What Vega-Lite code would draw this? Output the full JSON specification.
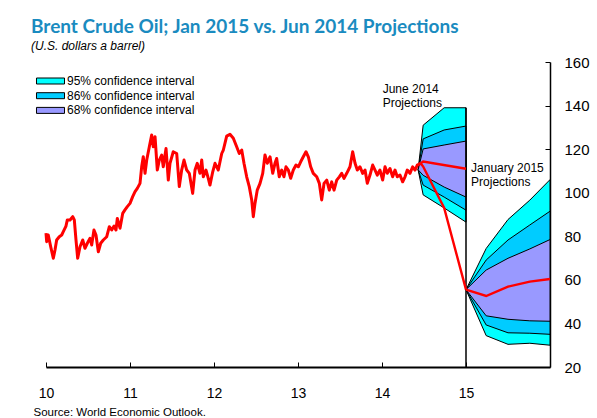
{
  "$schema": "https://vega.github.io/schema/vega-lite/v6.json",
  "width": 504,
  "height": 305,
  "autosize": {"type": "none"},
  "padding": {"left": 46, "top": 62, "right": 47, "bottom": 51},
  "background": "white",
  "config": {"view": {"stroke": null}, "font": "Liberation Sans"},
  "title": {
    "text": "Brent Crude Oil; Jan 2015 vs. Jun 2014 Projections",
    "subtitle": "(U.S. dollars a barrel)",
    "anchor": "start",
    "frame": "group",
    "dx": -15,
    "offset": 3,
    "font": "Lato",
    "fontSize": 19,
    "fontWeight": "bold",
    "color": "#1a8bc0",
    "subtitleFont": "Liberation Sans",
    "subtitleFontSize": 12,
    "subtitleFontStyle": "italic",
    "subtitleColor": "black",
    "subtitlePadding": 4
  },
  "datasets": {
    "hist": [
      {"t": 2010.0, "v": 81.4}, {"t": 2010.008, "v": 77.5}, {"t": 2010.027, "v": 80.6}, {"t": 2010.056, "v": 75.2},
      {"t": 2010.087, "v": 69.9}, {"t": 2010.107, "v": 73.7}, {"t": 2010.127, "v": 78.3}, {"t": 2010.158, "v": 79.8},
      {"t": 2010.187, "v": 80.6}, {"t": 2010.206, "v": 82.1}, {"t": 2010.238, "v": 84.7}, {"t": 2010.254, "v": 87.5},
      {"t": 2010.286, "v": 87.5}, {"t": 2010.318, "v": 89.0}, {"t": 2010.337, "v": 87.5}, {"t": 2010.357, "v": 78.3},
      {"t": 2010.377, "v": 69.9}, {"t": 2010.405, "v": 75.2}, {"t": 2010.437, "v": 78.3}, {"t": 2010.464, "v": 74.5},
      {"t": 2010.492, "v": 76.8}, {"t": 2010.524, "v": 79.1}, {"t": 2010.544, "v": 76.0}, {"t": 2010.571, "v": 82.9},
      {"t": 2010.595, "v": 80.6}, {"t": 2010.623, "v": 72.9}, {"t": 2010.651, "v": 76.8}, {"t": 2010.682, "v": 78.3},
      {"t": 2010.723, "v": 79.8}, {"t": 2010.754, "v": 84.4}, {"t": 2010.782, "v": 82.9}, {"t": 2010.81, "v": 84.7},
      {"t": 2010.833, "v": 82.9}, {"t": 2010.849, "v": 88.2}, {"t": 2010.881, "v": 83.7}, {"t": 2010.913, "v": 90.5},
      {"t": 2010.94, "v": 92.1}, {"t": 2010.968, "v": 93.6}, {"t": 2011.0, "v": 95.1}, {"t": 2011.032, "v": 98.2},
      {"t": 2011.06, "v": 100.5}, {"t": 2011.087, "v": 102.0}, {"t": 2011.119, "v": 104.3}, {"t": 2011.139, "v": 111.9},
      {"t": 2011.158, "v": 116.5}, {"t": 2011.179, "v": 108.9}, {"t": 2011.199, "v": 115.0}, {"t": 2011.23, "v": 121.1},
      {"t": 2011.258, "v": 126.5}, {"t": 2011.277, "v": 121.1}, {"t": 2011.298, "v": 125.7}, {"t": 2011.325, "v": 110.4},
      {"t": 2011.349, "v": 115.0}, {"t": 2011.377, "v": 117.3}, {"t": 2011.396, "v": 111.9}, {"t": 2011.429, "v": 120.3},
      {"t": 2011.456, "v": 105.8}, {"t": 2011.476, "v": 113.5}, {"t": 2011.515, "v": 118.8}, {"t": 2011.556, "v": 118.0},
      {"t": 2011.587, "v": 102.8}, {"t": 2011.615, "v": 110.4}, {"t": 2011.643, "v": 115.0}, {"t": 2011.675, "v": 110.4},
      {"t": 2011.706, "v": 108.9}, {"t": 2011.746, "v": 99.7}, {"t": 2011.774, "v": 110.4}, {"t": 2011.801, "v": 113.5},
      {"t": 2011.833, "v": 108.9}, {"t": 2011.854, "v": 115.0}, {"t": 2011.873, "v": 107.3}, {"t": 2011.905, "v": 110.4},
      {"t": 2011.932, "v": 106.6}, {"t": 2011.952, "v": 103.5}, {"t": 2011.985, "v": 109.6}, {"t": 2012.012, "v": 113.5},
      {"t": 2012.051, "v": 110.4}, {"t": 2012.092, "v": 118.0}, {"t": 2012.111, "v": 119.6}, {"t": 2012.151, "v": 126.0},
      {"t": 2012.19, "v": 126.8}, {"t": 2012.23, "v": 125.0}, {"t": 2012.27, "v": 121.1}, {"t": 2012.301, "v": 118.0},
      {"t": 2012.33, "v": 119.6}, {"t": 2012.357, "v": 113.5}, {"t": 2012.389, "v": 107.3}, {"t": 2012.42, "v": 102.8},
      {"t": 2012.449, "v": 96.7}, {"t": 2012.468, "v": 89.0}, {"t": 2012.488, "v": 95.1}, {"t": 2012.515, "v": 101.2},
      {"t": 2012.548, "v": 104.3}, {"t": 2012.58, "v": 108.9}, {"t": 2012.607, "v": 117.3}, {"t": 2012.635, "v": 113.5},
      {"t": 2012.667, "v": 116.5}, {"t": 2012.699, "v": 108.9}, {"t": 2012.726, "v": 113.5}, {"t": 2012.746, "v": 115.7},
      {"t": 2012.777, "v": 107.3}, {"t": 2012.806, "v": 110.4}, {"t": 2012.833, "v": 107.3}, {"t": 2012.857, "v": 111.9},
      {"t": 2012.885, "v": 110.4}, {"t": 2012.913, "v": 106.6}, {"t": 2012.944, "v": 110.4}, {"t": 2012.976, "v": 112.7},
      {"t": 2013.004, "v": 111.9}, {"t": 2013.032, "v": 114.2}, {"t": 2013.063, "v": 116.5}, {"t": 2013.095, "v": 118.8},
      {"t": 2013.123, "v": 116.5}, {"t": 2013.151, "v": 111.9}, {"t": 2013.182, "v": 108.9}, {"t": 2013.223, "v": 107.3},
      {"t": 2013.254, "v": 104.3}, {"t": 2013.282, "v": 96.7}, {"t": 2013.31, "v": 104.3}, {"t": 2013.342, "v": 105.8},
      {"t": 2013.373, "v": 101.2}, {"t": 2013.401, "v": 105.0}, {"t": 2013.429, "v": 101.2}, {"t": 2013.461, "v": 105.8},
      {"t": 2013.492, "v": 107.3}, {"t": 2013.52, "v": 108.9}, {"t": 2013.548, "v": 106.6}, {"t": 2013.58, "v": 108.9},
      {"t": 2013.619, "v": 111.9}, {"t": 2013.651, "v": 118.8}, {"t": 2013.679, "v": 113.5}, {"t": 2013.706, "v": 110.4},
      {"t": 2013.738, "v": 111.9}, {"t": 2013.77, "v": 108.9}, {"t": 2013.798, "v": 110.4}, {"t": 2013.825, "v": 104.3},
      {"t": 2013.857, "v": 108.1}, {"t": 2013.889, "v": 112.7}, {"t": 2013.917, "v": 110.4}, {"t": 2013.944, "v": 108.1},
      {"t": 2013.976, "v": 110.4}, {"t": 2014.008, "v": 105.8}, {"t": 2014.036, "v": 111.9}, {"t": 2014.063, "v": 108.9},
      {"t": 2014.095, "v": 111.1}, {"t": 2014.127, "v": 107.3}, {"t": 2014.155, "v": 110.4}, {"t": 2014.182, "v": 107.3},
      {"t": 2014.214, "v": 108.1}, {"t": 2014.246, "v": 105.0}, {"t": 2014.274, "v": 107.3}, {"t": 2014.301, "v": 110.4},
      {"t": 2014.333, "v": 108.9}, {"t": 2014.365, "v": 111.9}, {"t": 2014.393, "v": 110.4}, {"t": 2014.42, "v": 112.7},
      {"t": 2014.46, "v": 113.5}
    ],
    "proj": [
      {"s": "jun", "t": 2014.46, "v": 113.5}, {"s": "jun", "t": 2014.49, "v": 114.3}, {"s": "jun", "t": 2015.0, "v": 111.0},
      {"s": "act", "t": 2014.46, "v": 113.5}, {"s": "act", "t": 2014.49, "v": 112.0}, {"s": "act", "t": 2014.74, "v": 93.0}, {"s": "act", "t": 2015.0, "v": 55.5},
      {"s": "jan", "t": 2015.0, "v": 55.5}, {"s": "jan", "t": 2015.24, "v": 52.6}, {"s": "jan", "t": 2015.5, "v": 56.9}, {"s": "jan", "t": 2015.76, "v": 59.2}, {"s": "jan", "t": 2016.0, "v": 60.4}
    ],
    "bands": [
      {"f": "jun", "b": "95", "t": 2014.43, "v": 110.5, "v2": 110.5},
      {"f": "jun", "b": "95", "t": 2014.49, "v": 99.0, "v2": 131.0},
      {"f": "jun", "b": "95", "t": 2014.74, "v": 93.0, "v2": 139.0},
      {"f": "jun", "b": "95", "t": 2015.0, "v": 86.5, "v2": 139.0},
      {"f": "jun", "b": "86", "t": 2014.43, "v": 110.5, "v2": 110.5},
      {"f": "jun", "b": "86", "t": 2014.49, "v": 103.5, "v2": 124.7},
      {"f": "jun", "b": "86", "t": 2014.74, "v": 98.0, "v2": 128.8},
      {"f": "jun", "b": "86", "t": 2015.0, "v": 92.0, "v2": 130.6},
      {"f": "jun", "b": "68", "t": 2014.43, "v": 110.5, "v2": 110.5},
      {"f": "jun", "b": "68", "t": 2014.49, "v": 108.0, "v2": 120.1},
      {"f": "jun", "b": "68", "t": 2014.74, "v": 102.6, "v2": 121.9},
      {"f": "jun", "b": "68", "t": 2015.0, "v": 98.0, "v2": 123.7},
      {"f": "jan", "b": "95", "t": 2015.0, "v": 55.5, "v2": 55.5},
      {"f": "jan", "b": "95", "t": 2015.24, "v": 34.4, "v2": 74.4},
      {"f": "jan", "b": "95", "t": 2015.5, "v": 30.4, "v2": 87.7},
      {"f": "jan", "b": "95", "t": 2015.76, "v": 30.9, "v2": 96.6},
      {"f": "jan", "b": "95", "t": 2016.0, "v": 30.0, "v2": 106.0},
      {"f": "jan", "b": "86", "t": 2015.0, "v": 55.5, "v2": 55.5},
      {"f": "jan", "b": "86", "t": 2015.24, "v": 39.3, "v2": 69.1},
      {"f": "jan", "b": "86", "t": 2015.5, "v": 35.7, "v2": 78.3},
      {"f": "jan", "b": "86", "t": 2015.76, "v": 35.5, "v2": 85.2},
      {"f": "jan", "b": "86", "t": 2016.0, "v": 35.0, "v2": 91.5},
      {"f": "jan", "b": "68", "t": 2015.0, "v": 55.5, "v2": 55.5},
      {"f": "jan", "b": "68", "t": 2015.24, "v": 43.5, "v2": 64.5},
      {"f": "jan", "b": "68", "t": 2015.5, "v": 41.9, "v2": 69.9},
      {"f": "jan", "b": "68", "t": 2015.76, "v": 41.2, "v2": 74.2},
      {"f": "jan", "b": "68", "t": 2016.0, "v": 41.0, "v2": 78.5}
    ],
    "vline": [{"t": 2015.0, "v": 20, "v2": 139}],
    "labels": [
      {"t": 2014.008, "v": 145.9, "label": "June 2014\nProjections"},
      {"t": 2015.06, "v": 109.7, "label": "January 2015\nProjections"}
    ]
  },
  "encoding": {
    "x": {
      "field": "t", "type": "quantitative",
      "scale": {"domain": [2010, 2016], "nice": false, "zero": false},
      "title": "Source: World Economic Outlook.",
      "axis": {
        "values": [2010, 2011, 2012, 2013, 2014, 2015],
        "labelExpr": "'' + (datum.value - 2000)",
        "grid": false, "tickSize": -5, "tickColor": "black", "tickWidth": 1,
        "domainColor": "black", "domainWidth": 2,
        "labelFont": "Liberation Sans", "labelFontSize": 14, "labelColor": "black", "labelPadding": 24,
        "labelFlush": false, "labelOverlap": false,
        "titleFont": "Liberation Sans", "titleFontSize": 11.5, "titleFontWeight": "normal", "titleColor": "black",
        "titleAnchor": "start", "titleAlign": "left", "titleBaseline": "alphabetic", "titleX": -13, "titleY": 48
      }
    },
    "y": {
      "field": "v", "type": "quantitative",
      "scale": {"domain": [20, 160], "nice": false, "zero": false},
      "title": null,
      "axis": {
        "orient": "right", "values": [20, 40, 60, 80, 100, 120, 140, 160],
        "grid": false, "tickSize": -5, "tickColor": "black", "tickWidth": 1,
        "domainColor": "black", "domainWidth": 1.5,
        "labelFont": "Liberation Sans", "labelFontSize": 15, "labelColor": "black", "labelPadding": 19,
        "labelFlush": false, "labelOverlap": false
      }
    }
  },
  "layer": [
    {
      "data": {"name": "bands"},
      "transform": [{"filter": "datum.b == '95'"}],
      "mark": {"type": "area", "stroke": "black", "strokeWidth": 1, "opacity": 1, "fillOpacity": 1},
      "encoding": {
        "y2": {"field": "v2"},
        "detail": {"field": "f"},
        "color": {
          "field": "b", "type": "nominal",
          "scale": {"domain": ["95", "86", "68"], "range": ["#00ffff", "#00ccff", "#9999ff"]},
          "legend": {
            "orient": "none", "legendX": -1.5, "legendY": 13, "title": null, "padding": 0,
            "symbolType": "M-4.67,-1H4.67V1H-4.67Z", "symbolSize": 36,
            "symbolStrokeColor": "black", "symbolStrokeWidth": 1, "symbolOpacity": 1,
            "labelExpr": "datum.label + '% confidence interval'",
            "labelFont": "Liberation Sans", "labelFontSize": 12, "labelColor": "black", "labelOffset": 10.5,
            "rowPadding": 2.7,
            "encode": {"symbols": {"update": {"stroke": {"value": "black"}, "strokeWidth": {"value": 1}, "opacity": {"value": 1}}}}
          }
        }
      }
    },
    {
      "data": {"name": "bands"},
      "transform": [{"filter": "datum.b == '86'"}],
      "mark": {"type": "area", "stroke": "black", "strokeWidth": 1, "opacity": 1, "fillOpacity": 1},
      "encoding": {
        "y2": {"field": "v2"},
        "detail": {"field": "f"},
        "color": {"field": "b", "type": "nominal"}
      }
    },
    {
      "data": {"name": "bands"},
      "transform": [{"filter": "datum.b == '68'"}],
      "mark": {"type": "area", "stroke": "black", "strokeWidth": 1, "opacity": 1, "fillOpacity": 1},
      "encoding": {
        "y2": {"field": "v2"},
        "detail": {"field": "f"},
        "color": {"field": "b", "type": "nominal"}
      }
    },
    {
      "data": {"name": "vline"},
      "mark": {"type": "rule", "color": "black", "strokeWidth": 1.5},
      "encoding": {"y2": {"field": "v2"}}
    },
    {
      "data": {"name": "hist"},
      "mark": {"type": "line", "color": "#ff0000", "strokeWidth": 3, "strokeJoin": "round"},
      "encoding": {}
    },
    {
      "data": {"name": "proj"},
      "mark": {"type": "line", "color": "#ff0000", "strokeWidth": 2.4},
      "encoding": {"detail": {"field": "s"}}
    },
    {
      "data": {"name": "labels"},
      "mark": {"type": "text", "align": "left", "baseline": "alphabetic", "lineBreak": "\n", "lineHeight": 14.5, "font": "Liberation Sans", "fontSize": 12, "color": "black"},
      "encoding": {"text": {"field": "label"}}
    }
  ]
}
